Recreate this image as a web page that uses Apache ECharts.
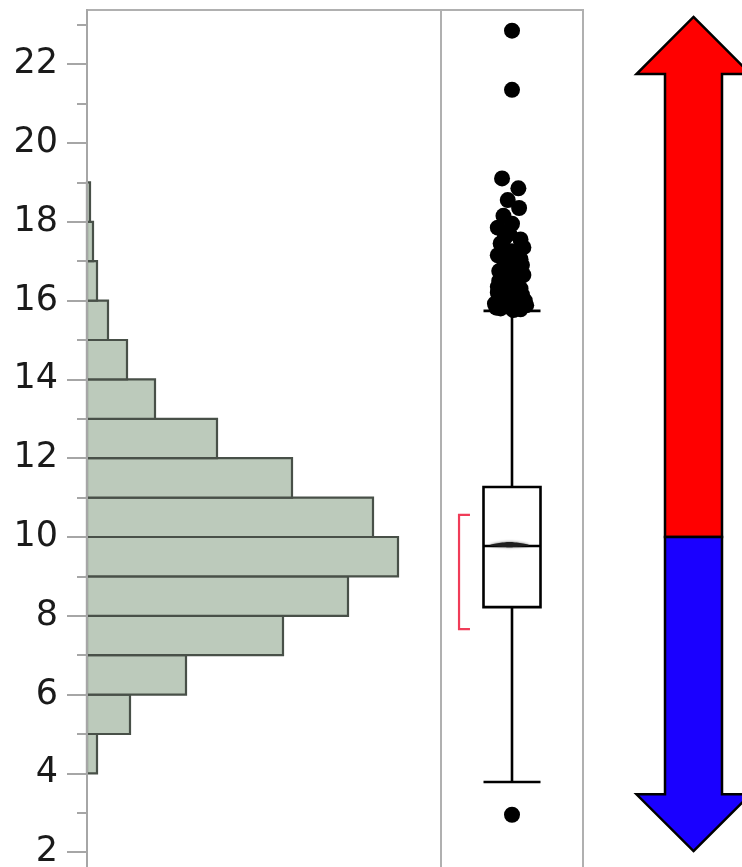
<!DOCTYPE html>
<html><head><meta charset="utf-8">
<script src="https://cdn.jsdelivr.net/npm/echarts@6/dist/echarts.min.js"></script>
<style>html,body{margin:0;padding:0;background:#fff;overflow:hidden}#c{width:742px;height:867px}</style>
</head><body><div id="c"></div>
<script>
// ---- data ----
const binStarts = [4,5,6,7,8,9,10,11,12,13,14,15,16,17,18];
const binCounts = [10,43,99,196,261,311,286,205,130,68,40,21,10,6,3];
const yTickLabels = [2,4,6,8,10,12,14,16,18,20,22];
const minorTickValues = [1,3,5,7,9,11,13,15,17,19,21,23];
const boxStats = [3.78, 8.22, 9.77, 11.27, 15.74]; // min, Q1, median, Q3, max whisker
const outlierValues = [22.85,21.35,2.95,
  19.10,18.85,18.55,18.35,18.15,17.95,17.85,17.70,17.55,17.45,17.35,17.25,17.15,17.05,
  16.95,16.85,16.75,16.65,16.55,16.45,16.35,16.25,16.15,16.05,15.98,15.92,15.88,15.84,15.80,15.78,15.76,
  17.30,17.10,16.90,16.70,16.50,16.30,16.10,16.00,15.90,15.82,17.60,16.60,16.40,16.20,15.95,15.86];
const outlierJitter = [0.50,0.50,0.50,
  0.43,0.545,0.47,0.55,0.44,0.50,0.40,0.48,0.56,0.42,0.58,0.50,0.40,0.56,
  0.45,0.52,0.41,0.58,0.47,0.54,0.40,0.50,0.57,0.44,0.53,0.38,0.60,0.48,0.42,0.56,0.51,
  0.45,0.50,0.57,0.49,0.41,0.56,0.44,0.59,0.49,0.39,0.45,0.53,0.48,0.40,0.56,0.45];
const meanValue = 9.79;
const meanCI = [9.74, 9.87];
const shortestHalf = [7.66, 10.56];
const arrowTop = 23.2, arrowHeadTop = 21.75, arrowSplit = 10, arrowHeadBottom = 3.47, arrowBottom = 2.03;

const Y_MIN = 0, Y_MAX = 23.375;
const chart = echarts.init(document.getElementById('c'), null, {renderer:'canvas'});
const gridCommon = {top:10, height:921, outerBoundsMode:'none', containLabel:false};
const axisGray = '#a6a6a6';

const option = {
  animation:false,
  backgroundColor:'#fff',
  grid:[
    Object.assign({left:87, width:354, show:true, borderColor:'#b0b0b0', borderWidth:2, backgroundColor:'transparent'}, gridCommon),
    Object.assign({left:441, width:142, show:true, borderColor:'#b0b0b0', borderWidth:2, backgroundColor:'transparent'}, gridCommon),
    Object.assign({left:87, width:354, show:false}, gridCommon)
  ],
  xAxis:[
    {gridIndex:0, type:'value', min:0, max:354, show:false},
    {gridIndex:1, type:'category', data:['Y'], show:false},
    {gridIndex:1, type:'value', min:0, max:1, show:false},
    {gridIndex:2, type:'value', min:0, max:1, show:false}
  ],
  yAxis:[
    {gridIndex:0, type:'value', min:Y_MIN, max:Y_MAX, z:5,
      axisLine:{show:true, lineStyle:{color:axisGray, width:2}},
      axisTick:{show:true, customValues:yTickLabels, length:20, lineStyle:{color:axisGray, width:2}},
      axisLabel:{show:true, customValues:yTickLabels, margin:29, fontSize:35, fontFamily:'DejaVu Sans', color:'#1a1a1a'},
      splitLine:{show:false}},
    {gridIndex:1, type:'value', min:Y_MIN, max:Y_MAX, show:false},
    {gridIndex:2, type:'value', min:Y_MIN, max:Y_MAX, z:5,
      axisLine:{show:false},
      axisTick:{show:true, customValues:minorTickValues, length:10, lineStyle:{color:axisGray, width:2}},
      axisLabel:{show:false}, splitLine:{show:false}}
  ],
  series:[
    {type:'custom', xAxisIndex:0, yAxisIndex:0, z:2,
      data: binStarts.map((s,i)=>[s, s+1, binCounts[i]]),
      encode:{x:2, y:[0,1]},
      renderItem:function(params, api){
        const lo = api.value(0), hi = api.value(1), c = api.value(2);
        const p0 = api.coord([0, hi]), p1 = api.coord([c, lo]);
        return {type:'rect', shape:{x:p0[0], y:p0[1], width:p1[0]-p0[0], height:p1[1]-p0[1]},
          style:{fill:'#bccabb', stroke:'#485048', lineWidth:2.2}};
      }},
    {type:'boxplot', xAxisIndex:1, yAxisIndex:1, z:2,
      data:[boxStats], boxWidth:[57,57],
      itemStyle:{color:'#fff', borderColor:'#000', borderWidth:2.6}},
    {type:'custom', xAxisIndex:2, yAxisIndex:1, z:4,
      data:[[0.345, 0.62, meanCI[0], meanValue, meanCI[1]]],
      renderItem:function(params, api){
        const x0 = api.value(0), x1 = api.value(1), lo = api.value(2), m = api.value(3), hi = api.value(4);
        const xc = (x0+x1)/2;
        return {type:'polygon', shape:{points:[api.coord([x0,m]), api.coord([xc,hi]), api.coord([x1,m]), api.coord([xc,lo])], smooth:0.3},
          style:{fill:'#1e1e1e', shadowBlur:3, shadowColor:'rgba(0,0,0,0.6)'}};
      }},
    {type:'custom', xAxisIndex:2, yAxisIndex:1, z:3,
      data:[[0.127, 0.204, shortestHalf[0], shortestHalf[1]]],
      renderItem:function(params, api){
        const xv = api.value(0), xe = api.value(1), lo = api.value(2), hi = api.value(3);
        return {type:'polyline', shape:{points:[api.coord([xe,hi]), api.coord([xv,hi]), api.coord([xv,lo]), api.coord([xe,lo])]},
          style:{stroke:'#f03c58', lineWidth:2.2, fill:null}};
      }},
    {type:'scatter', xAxisIndex:2, yAxisIndex:1, z:5,
      symbol:'circle', symbolSize:16,
      itemStyle:{color:'#000', opacity:1},
      data: outlierValues.map((v,i)=>[outlierJitter[i], v])}
  ]
};
chart.setOption(option);

// decorative arrows tied to the y scale
const py = v => chart.convertToPixel({yAxisIndex:0}, v);
const cx = 693.5, sh = 28.5, hh = 57;
const yT = py(arrowTop), yHT = py(arrowHeadTop), yS = py(arrowSplit), yHB = py(arrowHeadBottom), yB = py(arrowBottom);
chart.setOption({graphic:[
  {type:'polygon', z:10, shape:{points:[[cx,yT],[cx+hh,yHT],[cx+sh,yHT],[cx+sh,yS],[cx-sh,yS],[cx-sh,yHT],[cx-hh,yHT]]},
    style:{fill:'#ff0000', stroke:'#000', lineWidth:2.5, lineJoin:'miter'}},
  {type:'polygon', z:10, shape:{points:[[cx,yB],[cx+hh,yHB],[cx+sh,yHB],[cx+sh,yS],[cx-sh,yS],[cx-sh,yHB],[cx-hh,yHB]]},
    style:{fill:'#1a00ff', stroke:'#000', lineWidth:2.5, lineJoin:'miter'}}
]});
</script>
</body></html>
